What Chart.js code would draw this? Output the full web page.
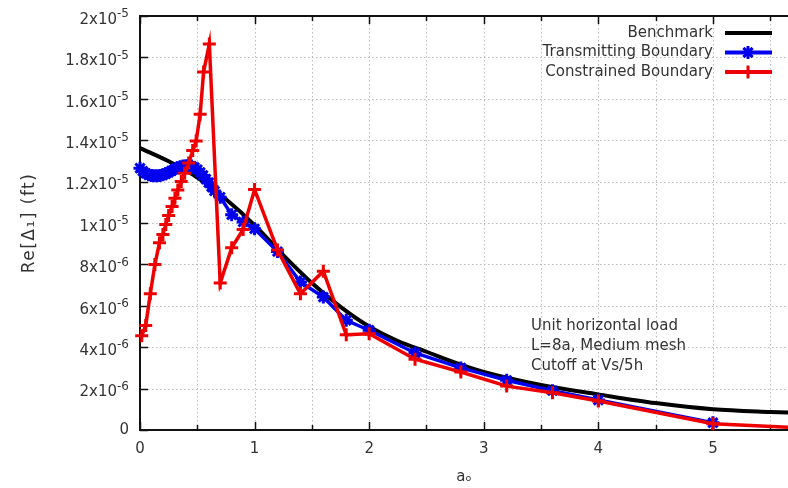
<!DOCTYPE html>
<html><head><meta charset="utf-8">
<script src="https://cdn.jsdelivr.net/npm/chart.js@4/dist/chart.umd.min.js"></script>
<style>html,body{margin:0;padding:0;background:#fff}#wrap{width:788px;height:488px}</style>
</head><body><div id="wrap"><canvas id="c" width="788" height="488"></canvas></div>
<script>
// All values in units of 1e-6 ft
const benchX = [0, 0.25, 0.5, 0.75, 1.0, 1.25, 1.5, 1.75, 2.0, 2.25, 2.5, 2.75, 3.0, 3.5, 4.0, 4.5, 5.0, 5.5, 6.0];
const benchY = [13.62, 12.98, 12.2, 11.15, 9.9, 8.45, 7.1, 5.95, 5.0, 4.3, 3.78, 3.25, 2.8, 2.17, 1.72, 1.3, 1.0, 0.87, 0.78];

const transX = [0, 0.025, 0.05, 0.075, 0.1, 0.125, 0.15, 0.175, 0.2, 0.225, 0.25, 0.275, 0.3, 0.325, 0.35, 0.375, 0.4, 0.425, 0.45, 0.475, 0.5, 0.525, 0.55, 0.575, 0.6, 0.625, 0.65,
                0.7, 0.8, 0.9, 1.0, 1.2, 1.4, 1.6, 1.8, 2.0, 2.4, 2.8, 3.2, 3.6, 4.0, 5.0];
const transY = [12.65, 12.5, 12.4, 12.33, 12.3, 12.28, 12.28, 12.3, 12.33, 12.38, 12.45, 12.52, 12.6, 12.67, 12.72, 12.75, 12.77, 12.78, 12.75, 12.68, 12.58, 12.45, 12.3, 12.12, 11.95, 11.75, 11.55,
                11.25, 10.4, 10.05, 9.72, 8.62, 7.15, 6.42, 5.3, 4.82, 3.72, 3.0, 2.4, 1.9, 1.45, 0.35];

const consX = [0.015, 0.05, 0.09, 0.13, 0.17, 0.2, 0.225, 0.25, 0.28, 0.305, 0.33, 0.36, 0.39, 0.425, 0.46, 0.49, 0.525, 0.555, 0.605,
               0.7, 0.8, 0.9, 1.0, 1.2, 1.4, 1.6, 1.8, 2.0, 2.4, 2.8, 3.2, 3.6, 4.0, 5.0, 6.0];
const consY = [4.55, 5.05, 6.58, 8.0, 9.04, 9.45, 9.93, 10.36, 10.8, 11.2, 11.6, 12.0, 12.4, 12.9, 13.5, 13.96, 15.25, 17.3, 18.65,
               7.1, 8.8, 9.69, 11.62, 8.7, 6.58, 7.67, 4.6, 4.65, 3.42, 2.8, 2.12, 1.8, 1.4, 0.3, 0.05];

const xTickLabels = ['0', '1', '2', '3', '4', '5'];
// base and exponent of each y tick label
const yTickBase = ['0', '2x10', '4x10', '6x10', '8x10', '1x10', '1.2x10', '1.4x10', '1.6x10', '1.8x10', '2x10'];
const yTickExp  = ['',  '-6',   '-6',   '-6',   '-6',   '-5',   '-5',     '-5',     '-5',     '-5',     '-5'];
const seriesNames = ['Benchmark', 'Transmitting Boundary', 'Constrained Boundary'];
const noteLines = ['Unit horizontal load', 'L=8a, Medium mesh', 'Cutoff at Vs/5h'];
const xTitle = 'aₒ';
const yTitle = 'Re[Δ₁] (ft)';

const FONT = 'DejaVu Sans';
const TEXT = '#333';
const COLORS = ['#000000', '#0000ee', '#ee0000'];
const STYLES = [false, 'star', 'cross'];

function pts(xs, ys) { return xs.map((x, i) => ({ x: x, y: ys[i] })); }

function marker(ctx, style, x, y, r) {
  ctx.beginPath();
  if (style === 'cross' || style === 'star') {
    ctx.moveTo(x - r, y); ctx.lineTo(x + r, y);
    ctx.moveTo(x, y - r); ctx.lineTo(x, y + r);
  }
  if (style === 'star') {
    const d = r * Math.SQRT1_2;
    ctx.moveTo(x - d, y - d); ctx.lineTo(x + d, y + d);
    ctx.moveTo(x - d, y + d); ctx.lineTo(x + d, y - d);
  }
  ctx.stroke();
}

const framePlugin = {
  id: 'frame',
  beforeDatasetsDraw(chart) {
    const { ctx, chartArea: a, scales: { x, y } } = chart;
    ctx.save();
    // dotted grid
    ctx.strokeStyle = '#bbbbbb'; ctx.lineWidth = 1; ctx.setLineDash([1.5, 2.5]);
    x.ticks.forEach(t => {
      if (t.value <= 0) return;
      const px = Math.round(x.getPixelForValue(t.value)) + 0.5;
      ctx.beginPath(); ctx.moveTo(px, a.top); ctx.lineTo(px, a.bottom); ctx.stroke();
    });
    y.ticks.forEach(t => {
      if (t.value <= 0 || t.value >= 20) return;
      const py = Math.round(y.getPixelForValue(t.value)) + 0.5;
      ctx.beginPath(); ctx.moveTo(a.left, py); ctx.lineTo(a.right, py); ctx.stroke();
    });
    ctx.setLineDash([]);
    // inward ticks
    ctx.strokeStyle = '#111'; ctx.lineWidth = 1.5;
    x.ticks.forEach(t => {
      const px = Math.round(x.getPixelForValue(t.value)) + 0.5;
      const len = Number.isInteger(t.value) ? 8 : 5;
      ctx.beginPath();
      ctx.moveTo(px, a.bottom); ctx.lineTo(px, a.bottom - len);
      ctx.moveTo(px, a.top); ctx.lineTo(px, a.top + len);
      ctx.stroke();
    });
    y.ticks.forEach(t => {
      const py = Math.round(y.getPixelForValue(t.value)) + 0.5;
      ctx.beginPath(); ctx.moveTo(a.left, py); ctx.lineTo(a.left + 8, py); ctx.stroke();
    });
    // frame
    ctx.strokeStyle = '#111'; ctx.lineWidth = 2;
    ctx.beginPath();
    ctx.moveTo(a.right + 2, a.top); ctx.lineTo(a.left, a.top); ctx.lineTo(a.left, a.bottom); ctx.lineTo(a.right + 2, a.bottom);
    ctx.stroke();

    // y tick labels with raised exponents
    ctx.fillStyle = TEXT; ctx.textBaseline = 'middle'; ctx.textAlign = 'right';
    y.ticks.forEach(t => {
      const i = Math.round(t.value / 2);
      const py = y.getPixelForValue(t.value);
      const right = a.left - 11;
      if (yTickExp[i]) {
        ctx.font = '12px "' + FONT + '"';
        const ew = ctx.measureText(yTickExp[i]).width;
        ctx.fillText(yTickExp[i], right, py - 2);
        ctx.font = '15px "' + FONT + '"';
        ctx.fillText(yTickBase[i], right - ew, py + 4);
      } else {
        ctx.font = '15px "' + FONT + '"';
        ctx.fillText(yTickBase[i], right, py);
      }
    });
    // y title
    ctx.save();
    ctx.translate(30, (a.top + a.bottom) / 2);
    ctx.rotate(-Math.PI / 2);
    ctx.font = '17px "' + FONT + '"';
    if ('letterSpacing' in ctx) ctx.letterSpacing = '1.5px';
    ctx.textAlign = 'center';
    ctx.fillText(yTitle, 0, 0);
    ctx.restore();
    ctx.restore();
  },
  afterDatasetsDraw(chart) {
    const { ctx, chartArea: a } = chart;
    ctx.save();
    ctx.font = '15px "' + FONT + '"';
    ctx.fillStyle = TEXT;
    ctx.textBaseline = 'middle';
    // legend
    ctx.textAlign = 'right';
    const rows = [a.top + 17, a.top + 36.5, a.top + 56];
    seriesNames.forEach((name, i) => {
      const ry = rows[i];
      ctx.fillStyle = TEXT;
      ctx.fillText(name, a.right - 75, ry);
      ctx.strokeStyle = COLORS[i];
      ctx.lineWidth = 4;
      ctx.beginPath(); ctx.moveTo(a.right - 63, ry); ctx.lineTo(a.right - 16, ry); ctx.stroke();
      if (STYLES[i]) { ctx.lineWidth = 3; marker(ctx, STYLES[i], a.right - 40, ry, 6.5); }
    });
    // note
    ctx.textAlign = 'left';
    ctx.fillStyle = TEXT;
    noteLines.forEach((t, i) => ctx.fillText(t, a.left + 391, a.bottom - 104 + i * 20));
    ctx.restore();
  }
};

const clipArea = { left: 12, top: 12, right: 0, bottom: 12 };

new Chart(document.getElementById('c'), {
  type: 'line',
  data: {
    datasets: [
      { label: seriesNames[0], data: pts(benchX, benchY), borderColor: COLORS[0], borderWidth: 4,
        pointRadius: 0, cubicInterpolationMode: 'monotone', order: 3, clip: clipArea },
      { label: seriesNames[1], data: pts(transX, transY), borderColor: COLORS[1], borderWidth: 3.5,
        pointStyle: 'star', pointRadius: 6.5, pointBorderWidth: 3, pointBorderColor: COLORS[1],
        pointBackgroundColor: COLORS[1], tension: 0, order: 2, clip: clipArea },
      { label: seriesNames[2], data: pts(consX, consY), borderColor: COLORS[2], borderWidth: 3.5,
        pointStyle: 'cross', pointRadius: 6.5, pointBorderWidth: 3, pointBorderColor: COLORS[2],
        pointBackgroundColor: COLORS[2], tension: 0, order: 1, clip: clipArea }
    ]
  },
  options: {
    responsive: false, animation: false, devicePixelRatio: 1,
    layout: { autoPadding: false, padding: { top: 16, right: 0, left: 0, bottom: 0 } },
    plugins: { legend: { display: false }, tooltip: { enabled: false } },
    scales: {
      x: {
        type: 'linear', min: 0, max: 5.655,
        grid: { display: false, drawTicks: false }, border: { display: false },
        ticks: { stepSize: 0.5, includeBounds: false, autoSkip: false, maxRotation: 0, padding: 10,
          color: TEXT, font: { family: FONT, size: 15 },
          callback: v => (Number.isInteger(v) && xTickLabels[v] !== undefined) ? xTickLabels[v] : '' },
        title: { display: true, text: xTitle, color: TEXT, font: { family: FONT, size: 15 }, padding: { top: 0, bottom: 2 } },
        afterFit(s) { s.height = 58; s.paddingLeft = 0; s.paddingRight = 0; }
      },
      y: {
        type: 'linear', min: 0, max: 20,
        grid: { display: false, drawTicks: false }, border: { display: false },
        ticks: { stepSize: 2, display: false },
        afterFit(s) { s.width = 140; s.paddingTop = 0; s.paddingBottom = 0; }
      }
    }
  },
  plugins: [framePlugin]
});
</script></body></html>
